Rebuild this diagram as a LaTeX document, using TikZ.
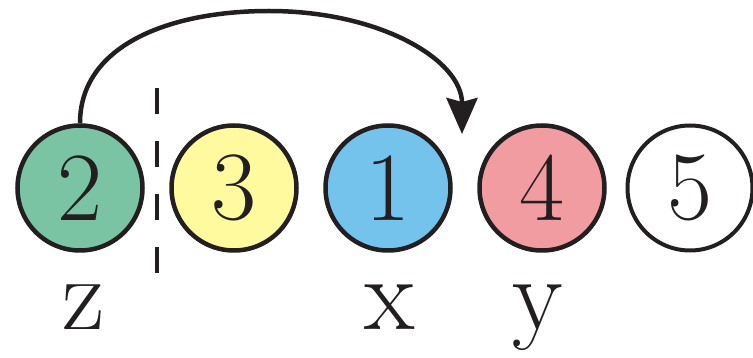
\documentclass[tikz,border=0pt]{standalone}
\usetikzlibrary{arrows.meta}
\definecolor{cgreen}{RGB}{122,196,164}
\definecolor{cyellow}{RGB}{255,250,158}
\definecolor{cblue}{RGB}{116,195,237}
\definecolor{cpink}{RGB}{240,156,160}
\definecolor{ink}{RGB}{35,31,32}
\begin{document}
\begin{tikzpicture}[x=1pt,y=-1pt,
  ball/.style={circle,draw=ink,line width=4.5pt,minimum size=125pt,inner sep=0pt,
    text=ink,font=\fontsize{98}{98}\selectfont},
  lab/.style={anchor=base,text=ink,font=\fontsize{104}{104}\selectfont}]
\useasboundingbox (0,0) rectangle (753,358);
\node[ball,fill=cgreen] (n2) at (80,188) {2};
\node[ball,fill=cyellow] (n3) at (234,188) {3};
\node[ball,fill=cblue] (n1) at (388,188) {1};
\node[ball,fill=cpink] (n4) at (542,188) {4};
\node[ball,fill=white,line width=4pt] (n5) at (690,188) {5};
\node[lab] (lz) at (84,330) {z};
\node[lab] (lx) at (390,330) {x};
\node[lab] (ly) at (538,330) {y};
\coordinate (d1) at (157,88);
\coordinate (d2) at (157,274);
\draw[ink,line width=3.5pt,dash pattern=on 26pt off 27pt] (d1) -- (d2);
\coordinate (tip) at (462,134);
\coordinate (top) at (269,11);
\draw[ink,line width=4.5pt,-{Stealth[length=36pt,width=31pt,inset=4pt]}]
  (n2.north) .. controls (80,45) and (170,11) .. (top)
  .. controls (380,11) and (462,60) .. (tip);
\end{tikzpicture}
\end{document}
